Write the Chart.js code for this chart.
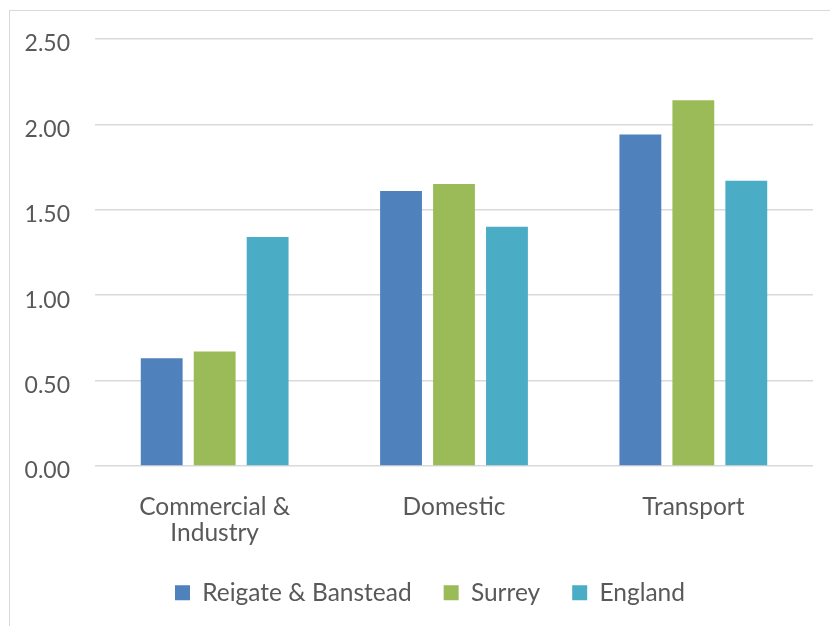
<!DOCTYPE html>
<html>
<head>
<meta charset="utf-8">
<script src="https://cdn.jsdelivr.net/npm/chart.js@4.4.1/dist/chart.umd.min.js"></script>
<style>
  html, body { margin: 0; padding: 0; background: #ffffff; }
  #wrap { position: relative; width: 830px; height: 626px; overflow: hidden; }
  #frame { position: absolute; left: 9px; top: 10px; width: 840px; height: 640px; border: 1.5px solid #d9d9d9; box-sizing: border-box; }
  #c { position: absolute; left: 0; top: 0; }
</style>
</head>
<body>
<div id="wrap">
  <div id="frame"></div>
  <canvas id="c" width="830" height="626"></canvas>
</div>
<script>
const categories = [["Commercial &", "Industry"], "Domestic", "Transport"];
const seriesNames = ["Reigate & Banstead", "Surrey", "England"];
const reigateValues = [0.63, 1.61, 1.94];
const surreyValues = [0.67, 1.65, 2.14];
const englandValues = [1.34, 1.40, 1.67];
const seriesColors = ["#4F81BD", "#9BBB59", "#4BACC6"];
const yTicks = { min: 0, max: 2.5, step: 0.5 };

const textColor = "#595959";
const fontFamily = "Lato, 'Open Sans', sans-serif";

// shift the legend block to sit under the plot like the original
const legendShift = {
  id: "legendShift",
  afterLayout(chart) {
    const lg = chart.legend;
    if (lg) { lg.left += 23.5; lg.right += 23.5; }
  }
};

new Chart(document.getElementById("c"), {
  type: "bar",
  data: {
    labels: categories,
    datasets: [reigateValues, surreyValues, englandValues].map((vals, i) => ({
      label: seriesNames[i],
      data: vals,
      backgroundColor: seriesColors[i],
      borderWidth: 0,
      categoryPercentage: 0.664,
      barPercentage: 0.79
    }))
  },
  plugins: [legendShift],
  options: {
    responsive: false,
    animation: false,
    devicePixelRatio: 1,
    layout: { padding: { top: 25, right: 17, bottom: 11, left: 0 } },
    plugins: {
      tooltip: { enabled: false },
      legend: {
        position: "bottom",
        labels: {
          color: textColor,
          font: { family: fontFamily, size: 24.5 },
          boxWidth: 15,
          boxHeight: 15,
          padding: 32
        }
      }
    },
    scales: {
      x: {
        afterFit: (scale) => { scale.height = 82.5; },
        grid: { display: false, drawTicks: false },
        border: { display: false },
        ticks: {
          color: textColor,
          font: { family: fontFamily, size: 24.5, lineHeight: 1.061 },
          padding: 28,
          maxRotation: 0,
          autoSkip: false
        }
      },
      y: {
        min: yTicks.min,
        max: yTicks.max,
        afterFit: (scale) => { scale.width = 95; },
        grid: { color: "#d9d9d9", lineWidth: 1.4, drawTicks: false },
        border: { display: false },
        ticks: {
          stepSize: yTicks.step,
          color: textColor,
          font: { family: fontFamily, size: 23 },
          padding: 25,
          labelOffset: 5,
          callback: (v) => Number(v).toFixed(2)
        }
      }
    }
  }
});
</script>
</body>
</html>
